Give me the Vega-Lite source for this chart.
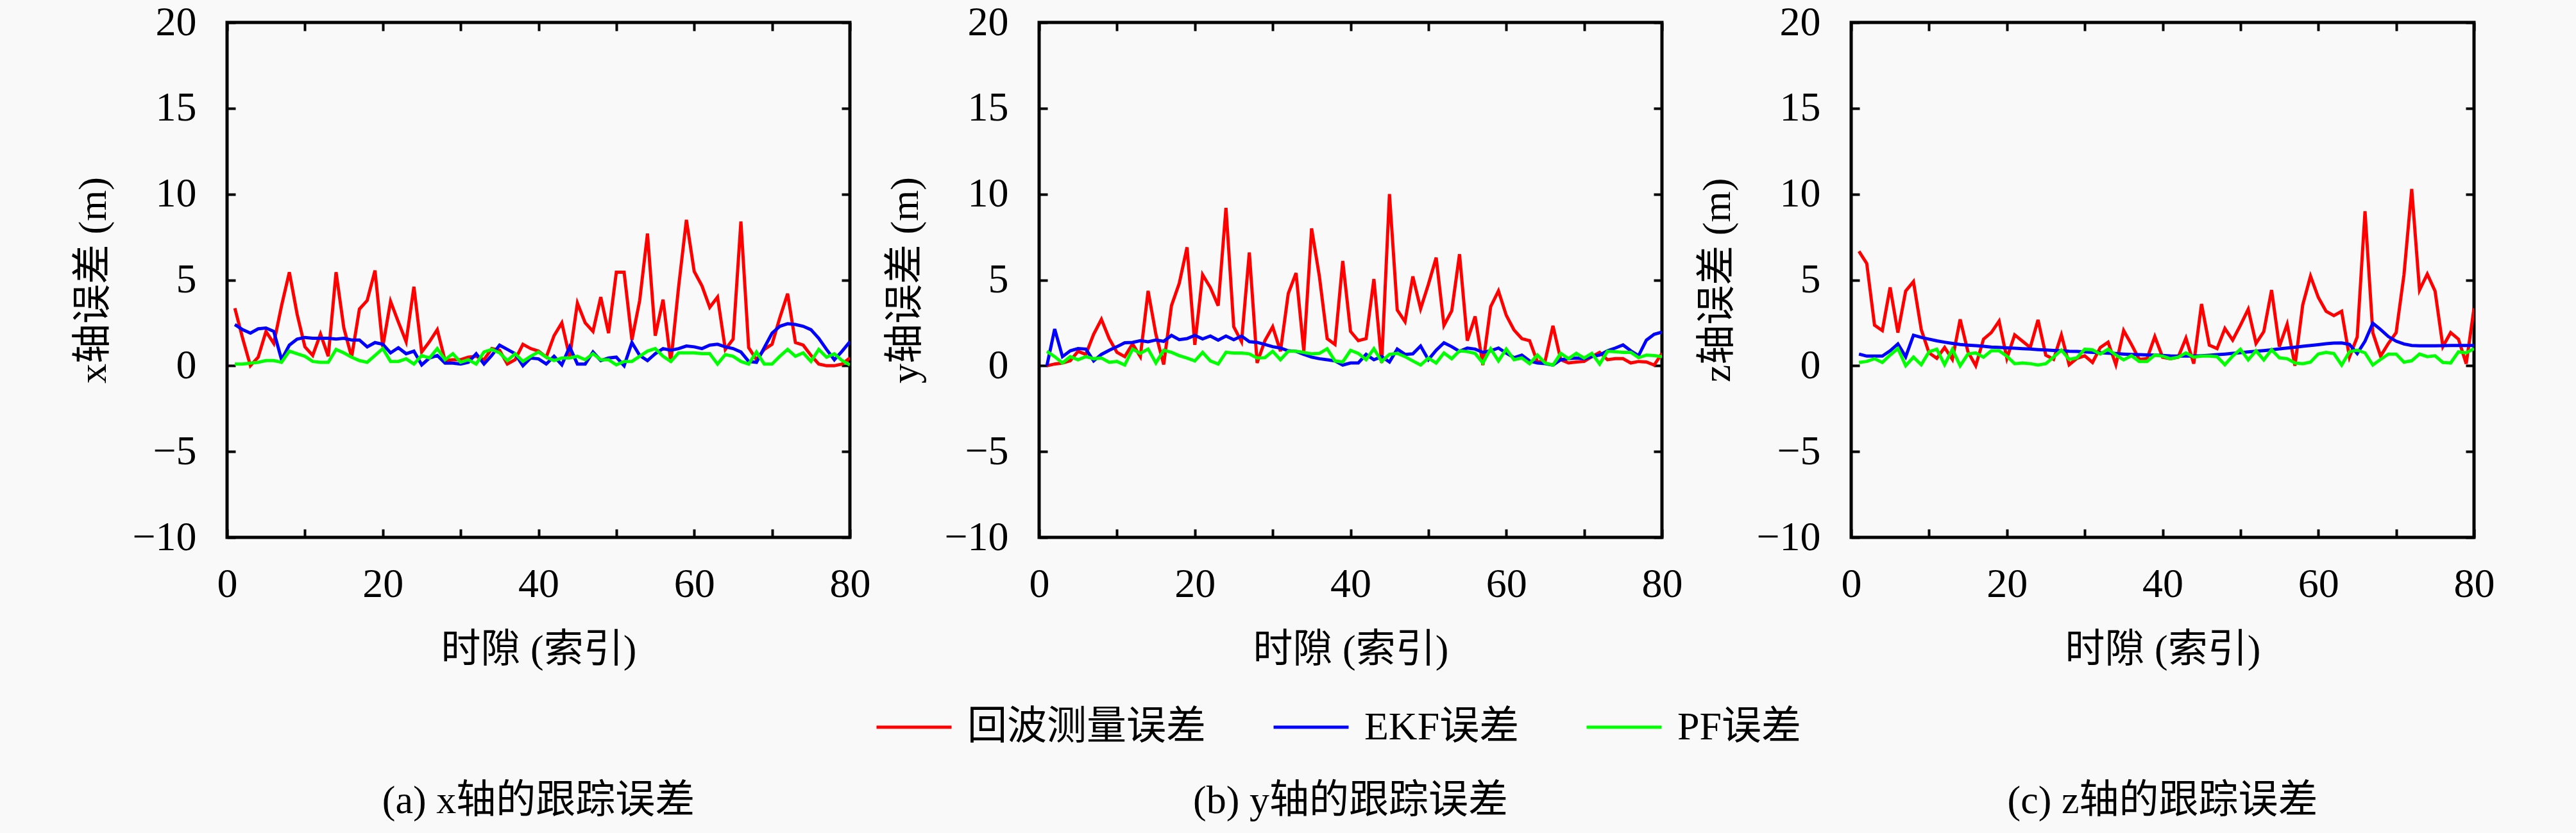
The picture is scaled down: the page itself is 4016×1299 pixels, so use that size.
{
"$schema": "https://vega.github.io/schema/vega-lite/v6.json",
"background": "#f9f9f9",
"padding": {"left": 112, "top": 0, "right": 200, "bottom": 80},
"datasets": {
"a": [
{"t":1,"回波测量误差":3.35,"EKF误差":2.4,"PF误差":0.1},
{"t":2,"回波测量误差":1.6,"EKF误差":2.1,"PF误差":0.1},
{"t":3,"回波测量误差":0.0,"EKF误差":1.9,"PF误差":0.15},
{"t":4,"回波测量误差":0.5,"EKF误差":2.15,"PF误差":0.2},
{"t":5,"回波测量误差":2.0,"EKF误差":2.2,"PF误差":0.3},
{"t":6,"回波测量误差":1.3,"EKF误差":2.0,"PF误差":0.3},
{"t":7,"回波测量误差":3.5,"EKF误差":0.35,"PF误差":0.2},
{"t":8,"回波测量误差":5.45,"EKF误差":1.2,"PF误差":0.85},
{"t":9,"回波测量误差":3.0,"EKF误差":1.55,"PF误差":0.7},
{"t":10,"回波测量误差":1.1,"EKF误差":1.65,"PF误差":0.55},
{"t":11,"回波测量误差":0.6,"EKF误差":1.6,"PF误差":0.25},
{"t":12,"回波测量误差":1.85,"EKF误差":1.6,"PF误差":0.2},
{"t":13,"回波测量误差":0.55,"EKF误差":1.6,"PF误差":0.2},
{"t":14,"回波测量误差":5.45,"EKF误差":1.55,"PF误差":0.95},
{"t":15,"回波测量误差":2.2,"EKF误差":1.6,"PF误差":0.75},
{"t":16,"回波测量误差":0.5,"EKF误差":1.5,"PF误差":0.5},
{"t":17,"回波测量误差":3.3,"EKF误差":1.5,"PF误差":0.3},
{"t":18,"回波测量误差":3.8,"EKF误差":1.1,"PF误差":0.2},
{"t":19,"回波测量误差":5.55,"EKF误差":1.35,"PF误差":0.6},
{"t":20,"回波测量误差":1.1,"EKF误差":1.25,"PF误差":1.0},
{"t":21,"回波测量误差":3.75,"EKF误差":0.75,"PF误差":0.25},
{"t":22,"回波测量误差":2.55,"EKF误差":1.05,"PF误差":0.25},
{"t":23,"回波测量误差":1.4,"EKF误差":0.7,"PF误差":0.4},
{"t":24,"回波测量误差":4.6,"EKF误差":0.85,"PF误差":0.1},
{"t":25,"回波测量误差":0.8,"EKF误差":0.05,"PF误差":0.6},
{"t":26,"回波测量误差":1.4,"EKF误差":0.45,"PF误差":0.45},
{"t":27,"回波测量误差":2.1,"EKF误差":0.6,"PF误差":1.0},
{"t":28,"回波测量误差":0.3,"EKF误差":0.15,"PF误差":0.35},
{"t":29,"回波测量误差":0.35,"EKF误差":0.15,"PF误差":0.7},
{"t":30,"回波测量误差":0.35,"EKF误差":0.1,"PF误差":0.2},
{"t":31,"回波测量误差":0.5,"EKF误差":0.2,"PF误差":0.35},
{"t":32,"回波测量误差":0.55,"EKF误差":0.7,"PF误差":0.1},
{"t":33,"回波测量误差":0.35,"EKF误差":0.1,"PF误差":0.8},
{"t":34,"回波测量误差":1.0,"EKF误差":0.6,"PF误差":0.95},
{"t":35,"回波测量误差":0.9,"EKF误差":1.2,"PF误差":0.75},
{"t":36,"回波测量误差":0.1,"EKF误差":0.95,"PF误差":0.3},
{"t":37,"回波测量误差":0.35,"EKF误差":0.7,"PF误差":0.7},
{"t":38,"回波测量误差":1.25,"EKF误差":0.0,"PF误差":0.25},
{"t":39,"回波测量误差":1.0,"EKF误差":0.45,"PF误差":0.55},
{"t":40,"回波测量误差":0.85,"EKF误差":0.4,"PF误差":0.8},
{"t":41,"回波测量误差":0.5,"EKF误差":0.1,"PF误差":0.5},
{"t":42,"回波测量误差":1.75,"EKF误差":0.55,"PF误差":0.3},
{"t":43,"回波测量误差":2.5,"EKF误差":0.05,"PF误差":0.45},
{"t":44,"回波测量误差":0.5,"EKF误差":1.1,"PF误差":0.45},
{"t":45,"回波测量误差":3.65,"EKF误差":0.1,"PF误差":0.55},
{"t":46,"回波测量误差":2.5,"EKF误差":0.1,"PF误差":0.35},
{"t":47,"回波测量误差":2.0,"EKF误差":0.8,"PF误差":0.7},
{"t":48,"回波测量误差":4.0,"EKF误差":0.3,"PF误差":0.35},
{"t":49,"回波测量误差":1.9,"EKF误差":0.45,"PF误差":0.35},
{"t":50,"回波测量误差":5.45,"EKF误差":0.5,"PF误差":0.05},
{"t":51,"回波测量误差":5.45,"EKF误差":0.0,"PF误差":0.25},
{"t":52,"回波测量误差":1.5,"EKF误差":1.35,"PF误差":0.25},
{"t":53,"回波测量误差":3.8,"EKF误差":0.6,"PF误差":0.55},
{"t":54,"回波测量误差":7.7,"EKF误差":0.3,"PF误差":0.85},
{"t":55,"回波测量误差":1.75,"EKF误差":0.7,"PF误差":1.0},
{"t":56,"回波测量误差":3.85,"EKF误差":1.0,"PF误差":0.55},
{"t":57,"回波测量误差":0.2,"EKF误差":0.9,"PF误差":0.25},
{"t":58,"回波测量误差":4.6,"EKF误差":1.0,"PF误差":0.75},
{"t":59,"回波测量误差":8.5,"EKF误差":1.15,"PF误差":0.75},
{"t":60,"回波测量误差":5.5,"EKF误差":1.1,"PF误差":0.75},
{"t":61,"回波测量误差":4.65,"EKF误差":1.0,"PF误差":0.7},
{"t":62,"回波测量误差":3.4,"EKF误差":1.2,"PF误差":0.7},
{"t":63,"回波测量误差":4.0,"EKF误差":1.25,"PF误差":0.1},
{"t":64,"回波测量误差":0.95,"EKF误差":1.1,"PF误差":0.65},
{"t":65,"回波测量误差":1.55,"EKF误差":1.0,"PF误差":0.55},
{"t":66,"回波测量误差":8.4,"EKF误差":0.8,"PF误差":0.25},
{"t":67,"回波测量误差":1.05,"EKF误差":0.25,"PF误差":0.1},
{"t":68,"回波测量误差":0.35,"EKF误差":0.2,"PF误差":0.8},
{"t":69,"回波测量误差":0.95,"EKF误差":1.05,"PF误差":0.1},
{"t":70,"回波测量误差":1.25,"EKF误差":1.9,"PF误差":0.1},
{"t":71,"回波测量误差":2.8,"EKF误差":2.3,"PF误差":0.55},
{"t":72,"回波测量误差":4.2,"EKF误差":2.45,"PF误差":0.95},
{"t":73,"回波测量误差":1.35,"EKF误差":2.4,"PF误差":0.55},
{"t":74,"回波测量误差":1.2,"EKF误差":2.3,"PF误差":0.75},
{"t":75,"回波测量误差":0.6,"EKF误差":2.1,"PF误差":0.25},
{"t":76,"回波测量误差":0.1,"EKF误差":1.6,"PF误差":0.95},
{"t":77,"回波测量误差":0.0,"EKF误差":0.95,"PF误差":0.5},
{"t":78,"回波测量误差":0.0,"EKF误差":0.35,"PF误差":0.7},
{"t":79,"回波测量误差":0.1,"EKF误差":0.85,"PF误差":0.3},
{"t":80,"回波测量误差":0.45,"EKF误差":1.4,"PF误差":0.05}
],
"b": [
{"t":1,"回波测量误差":0.0,"EKF误差":0.0,"PF误差":0.84},
{"t":2,"回波测量误差":0.1,"EKF误差":2.14,"PF误差":0.53},
{"t":3,"回波测量误差":0.16,"EKF误差":0.53,"PF误差":0.16},
{"t":4,"回波测量误差":0.29,"EKF误差":0.87,"PF误差":0.53},
{"t":5,"回波测量误差":0.84,"EKF误差":1.0,"PF误差":0.35},
{"t":6,"回波测量误差":0.66,"EKF误差":0.97,"PF误差":0.53},
{"t":7,"回波测量误差":1.83,"EKF误差":0.28,"PF误差":0.41},
{"t":8,"回波测量误差":2.7,"EKF误差":0.66,"PF误差":0.45},
{"t":9,"回波测量误差":1.58,"EKF误差":0.9,"PF误差":0.2},
{"t":10,"回波测量误差":0.78,"EKF误差":1.11,"PF误差":0.25},
{"t":11,"回波测量误差":0.53,"EKF误差":1.34,"PF误差":0.04},
{"t":12,"回波测量误差":1.27,"EKF误差":1.36,"PF误差":0.97},
{"t":13,"回波测量误差":0.53,"EKF误差":1.46,"PF误差":0.72},
{"t":14,"回波测量误差":4.36,"EKF误差":1.4,"PF误差":0.97},
{"t":15,"回波测量误差":1.83,"EKF误差":1.5,"PF误差":0.16},
{"t":16,"回波测量误差":0.07,"EKF误差":1.42,"PF误差":0.9},
{"t":17,"回波测量误差":3.5,"EKF误差":1.77,"PF误差":0.78},
{"t":18,"回波测量误差":4.8,"EKF误差":1.52,"PF误差":0.59},
{"t":19,"回波测量误差":6.9,"EKF误差":1.58,"PF误差":0.45},
{"t":20,"回波测量误差":1.22,"EKF误差":1.77,"PF误差":0.28},
{"t":21,"回波测量误差":5.3,"EKF误差":1.56,"PF误差":0.78},
{"t":22,"回波测量误差":4.55,"EKF误差":1.73,"PF误差":0.28},
{"t":23,"回波测量误差":3.5,"EKF误差":1.49,"PF误差":0.1},
{"t":24,"回波测量误差":9.2,"EKF误差":1.73,"PF误差":0.78},
{"t":25,"回波测量误差":2.27,"EKF误差":1.52,"PF误差":0.74},
{"t":26,"回波测量误差":1.4,"EKF误差":1.73,"PF误差":0.74},
{"t":27,"回波测量误差":6.6,"EKF误差":1.4,"PF误差":0.69},
{"t":28,"回波测量误差":0.16,"EKF误差":1.36,"PF误差":0.45},
{"t":29,"回波测量误差":1.46,"EKF误差":1.24,"PF误差":0.47},
{"t":30,"回波测量误差":2.27,"EKF误差":1.11,"PF误差":0.84},
{"t":31,"回波测量误差":0.84,"EKF误差":1.03,"PF误差":0.35},
{"t":32,"回波测量误差":4.2,"EKF误差":0.87,"PF误差":0.84},
{"t":33,"回波测量误差":5.4,"EKF误差":0.84,"PF误差":0.84},
{"t":34,"回波测量误差":0.84,"EKF误差":0.66,"PF误差":0.78},
{"t":35,"回波测量误差":8.0,"EKF误差":0.5,"PF误差":0.69},
{"t":36,"回波测量误差":5.2,"EKF误差":0.41,"PF误差":0.72},
{"t":37,"回波测量误差":1.58,"EKF误差":0.35,"PF误差":0.99},
{"t":38,"回波测量误差":1.24,"EKF误差":0.28,"PF误差":0.28},
{"t":39,"回波测量误差":6.1,"EKF误差":0.04,"PF误差":0.22},
{"t":40,"回波测量误差":2.0,"EKF误差":0.16,"PF误差":0.9},
{"t":41,"回波测量误差":1.46,"EKF误差":0.16,"PF误差":0.72},
{"t":42,"回波测量误差":1.58,"EKF误差":0.66,"PF误差":0.35},
{"t":43,"回波测量误差":5.05,"EKF误差":0.35,"PF误差":0.99},
{"t":44,"回波测量误差":0.16,"EKF误差":0.53,"PF误差":0.25},
{"t":45,"回波测量误差":10.0,"EKF误差":0.22,"PF误差":0.66},
{"t":46,"回波测量误差":3.25,"EKF误差":0.97,"PF误差":0.72},
{"t":47,"回波测量误差":2.57,"EKF误差":0.66,"PF误差":0.53},
{"t":48,"回波测量误差":5.2,"EKF误差":0.69,"PF误差":0.28},
{"t":49,"回波测量误差":3.32,"EKF误差":1.15,"PF误差":0.04},
{"t":50,"回波测量误差":4.74,"EKF误差":0.35,"PF误差":0.45},
{"t":51,"回波测量误差":6.3,"EKF误差":0.9,"PF误差":0.16},
{"t":52,"回波测量误差":2.35,"EKF误差":1.34,"PF误差":0.74},
{"t":53,"回波测量误差":3.2,"EKF误差":1.11,"PF误差":0.41},
{"t":54,"回波测量误差":6.5,"EKF误差":0.84,"PF误差":0.87},
{"t":55,"回波测量误差":1.46,"EKF误差":1.03,"PF误差":0.82},
{"t":56,"回波测量误差":2.87,"EKF误差":0.97,"PF误差":0.72},
{"t":57,"回波测量误差":0.04,"EKF误差":0.78,"PF误差":0.16},
{"t":58,"回波测量误差":3.44,"EKF误差":0.87,"PF误差":0.99},
{"t":59,"回波测量误差":4.36,"EKF误差":1.03,"PF误差":0.28},
{"t":60,"回波测量误差":2.94,"EKF误差":0.74,"PF误差":0.97},
{"t":61,"回波测量误差":2.08,"EKF误差":0.47,"PF误差":0.35},
{"t":62,"回波测量误差":1.58,"EKF误差":0.62,"PF误差":0.45},
{"t":63,"回波测量误差":1.46,"EKF误差":0.28,"PF误差":0.12},
{"t":64,"回波测量误差":0.22,"EKF误差":0.16,"PF误差":0.62},
{"t":65,"回波测量误差":0.28,"EKF误差":0.12,"PF误差":0.16},
{"t":66,"回波测量误差":2.33,"EKF误差":0.04,"PF误差":0.04},
{"t":67,"回波测量误差":0.35,"EKF误差":0.35,"PF误差":0.72},
{"t":68,"回波测量误差":0.16,"EKF误差":0.41,"PF误差":0.41},
{"t":69,"回波测量误差":0.22,"EKF误差":0.45,"PF误差":0.72},
{"t":70,"回波测量误差":0.25,"EKF误差":0.41,"PF误差":0.45},
{"t":71,"回波测量误差":0.53,"EKF误差":0.53,"PF误差":0.72},
{"t":72,"回波测量误差":0.78,"EKF误差":0.62,"PF误差":0.1},
{"t":73,"回波测量误差":0.35,"EKF误差":0.87,"PF误差":0.84},
{"t":74,"回波测量误差":0.41,"EKF误差":1.03,"PF误差":0.82},
{"t":75,"回波测量误差":0.41,"EKF误差":1.21,"PF误差":0.78},
{"t":76,"回波测量误差":0.16,"EKF误差":0.87,"PF误差":0.78},
{"t":77,"回波测量误差":0.25,"EKF误差":0.59,"PF误差":0.47},
{"t":78,"回波测量误差":0.22,"EKF误差":1.49,"PF误差":0.62},
{"t":79,"回波测量误差":0.04,"EKF误差":1.83,"PF误差":0.59},
{"t":80,"回波测量误差":0.72,"EKF误差":1.96,"PF误差":0.53}
],
"c": [
{"t":1,"回波测量误差":6.67,"EKF误差":0.68,"PF误差":0.19},
{"t":2,"回波测量误差":5.96,"EKF误差":0.56,"PF误差":0.25},
{"t":3,"回波测量误差":2.36,"EKF误差":0.56,"PF误差":0.41},
{"t":4,"回波测量误差":2.05,"EKF误差":0.56,"PF误差":0.19},
{"t":5,"回波测量误差":4.56,"EKF误差":0.87,"PF误差":0.62},
{"t":6,"回波测量误差":1.93,"EKF误差":1.27,"PF误差":1.0},
{"t":7,"回波测量误差":4.35,"EKF误差":0.52,"PF误差":0.0},
{"t":8,"回波测量误差":4.9,"EKF误差":1.78,"PF误差":0.5},
{"t":9,"回波测量误差":2.11,"EKF误差":1.65,"PF误差":0.06},
{"t":10,"回波测量误差":0.75,"EKF误差":1.55,"PF误差":0.81},
{"t":11,"回波测量误差":0.43,"EKF误差":1.45,"PF误差":0.96},
{"t":12,"回波测量误差":1.06,"EKF误差":1.37,"PF误差":0.06},
{"t":13,"回波测量误差":0.37,"EKF误差":1.3,"PF误差":0.96},
{"t":14,"回波测量误差":2.7,"EKF误差":1.24,"PF误差":0.0},
{"t":15,"回波测量误差":0.81,"EKF误差":1.2,"PF误差":0.68},
{"t":16,"回波测量误差":0.0,"EKF误差":1.17,"PF误差":0.75},
{"t":17,"回波测量误差":1.55,"EKF误差":1.13,"PF误差":0.5},
{"t":18,"回波测量误差":1.93,"EKF误差":1.09,"PF误差":0.87},
{"t":19,"回波测量误差":2.6,"EKF误差":1.07,"PF误差":0.87},
{"t":20,"回波测量误差":0.43,"EKF误差":1.04,"PF误差":0.56},
{"t":21,"回波测量误差":1.8,"EKF误差":1.02,"PF误差":0.12},
{"t":22,"回波测量误差":1.43,"EKF误差":0.99,"PF误差":0.16},
{"t":23,"回波测量误差":1.06,"EKF误差":0.97,"PF误差":0.12},
{"t":24,"回波测量误差":2.67,"EKF误差":0.94,"PF误差":0.04},
{"t":25,"回波测量误差":0.62,"EKF误差":0.92,"PF误差":0.12},
{"t":26,"回波测量误差":0.37,"EKF误差":0.89,"PF误差":0.5},
{"t":27,"回波测量误差":1.8,"EKF误差":0.87,"PF误差":0.91},
{"t":28,"回波测量误差":0.06,"EKF误差":0.84,"PF误差":0.37},
{"t":29,"回波测量误差":0.43,"EKF误差":0.83,"PF误差":0.46},
{"t":30,"回波测量误差":0.58,"EKF误差":0.81,"PF误差":0.96},
{"t":31,"回波测量误差":0.19,"EKF误差":0.78,"PF误差":0.93},
{"t":32,"回波测量误差":1.06,"EKF误差":0.76,"PF误差":0.68},
{"t":33,"回波测量误差":1.37,"EKF误差":0.73,"PF误差":0.96},
{"t":34,"回波测量误差":0.06,"EKF误差":0.71,"PF误差":0.62},
{"t":35,"回波测量误差":2.05,"EKF误差":0.68,"PF误差":0.34},
{"t":36,"回波测量误差":1.24,"EKF误差":0.66,"PF误差":0.58},
{"t":37,"回波测量误差":0.37,"EKF误差":0.65,"PF误差":0.25},
{"t":38,"回波测量误差":0.41,"EKF误差":0.63,"PF误差":0.25},
{"t":39,"回波测量误差":1.7,"EKF误差":0.62,"PF误差":0.62},
{"t":40,"回波测量误差":0.5,"EKF误差":0.6,"PF误差":0.56},
{"t":41,"回波测量误差":0.41,"EKF误差":0.57,"PF误差":0.41},
{"t":42,"回波测量误差":0.5,"EKF误差":0.56,"PF误差":0.5},
{"t":43,"回波测量误差":1.61,"EKF误差":0.56,"PF误差":0.75},
{"t":44,"回波测量误差":0.12,"EKF误差":0.56,"PF误差":0.5},
{"t":45,"回波测量误差":3.6,"EKF误差":0.58,"PF误差":0.56},
{"t":46,"回波测量误差":1.2,"EKF误差":0.61,"PF误差":0.56},
{"t":47,"回波测量误差":1.0,"EKF误差":0.65,"PF误差":0.53},
{"t":48,"回波测量误差":2.17,"EKF误差":0.68,"PF误差":0.06},
{"t":49,"回波测量误差":1.49,"EKF误差":0.72,"PF误差":0.56},
{"t":50,"回波测量误差":2.36,"EKF误差":0.76,"PF误差":0.96},
{"t":51,"回波测量误差":3.29,"EKF误差":0.81,"PF误差":0.34},
{"t":52,"回波测量误差":1.3,"EKF误差":0.84,"PF误差":0.87},
{"t":53,"回波测量误差":1.99,"EKF误差":0.88,"PF误差":0.34},
{"t":54,"回波测量误差":4.41,"EKF误差":0.93,"PF误差":0.93},
{"t":55,"回波测量误差":1.12,"EKF误差":0.98,"PF误差":0.46},
{"t":56,"回波测量误差":2.42,"EKF误差":1.03,"PF误差":0.41},
{"t":57,"回波测量误差":0.0,"EKF误差":1.08,"PF误差":0.16},
{"t":58,"回波测量误差":3.54,"EKF误差":1.13,"PF误差":0.12},
{"t":59,"回波测量误差":5.22,"EKF误差":1.18,"PF误差":0.21},
{"t":60,"回波测量误差":3.98,"EKF误差":1.23,"PF误差":0.68},
{"t":61,"回波测量误差":3.17,"EKF误差":1.28,"PF误差":0.78},
{"t":62,"回波测量误差":2.92,"EKF误差":1.32,"PF误差":0.71},
{"t":63,"回波测量误差":3.17,"EKF误差":1.33,"PF误差":0.04},
{"t":64,"回波测量误差":0.5,"EKF误差":1.24,"PF误差":0.81},
{"t":65,"回波测量误差":1.68,"EKF误差":0.71,"PF误差":0.91},
{"t":66,"回波测量误差":9.0,"EKF误差":1.43,"PF误差":0.75},
{"t":67,"回波测量误差":1.93,"EKF误差":2.48,"PF误差":0.04},
{"t":68,"回波测量误差":0.56,"EKF误差":2.11,"PF误差":0.37},
{"t":69,"回波测量误差":1.3,"EKF误差":1.7,"PF误差":0.68},
{"t":70,"回波测量误差":1.93,"EKF误差":1.43,"PF误差":0.68},
{"t":71,"回波测量误差":5.28,"EKF误差":1.27,"PF误差":0.21},
{"t":72,"回波测量误差":10.3,"EKF误差":1.18,"PF误差":0.29},
{"t":73,"回波测量误差":4.41,"EKF误差":1.16,"PF误差":0.68},
{"t":74,"回波测量误差":5.34,"EKF误差":1.16,"PF误差":0.53},
{"t":75,"回波测量误差":4.35,"EKF误差":1.16,"PF误差":0.58},
{"t":76,"回波测量误差":1.12,"EKF误差":1.17,"PF误差":0.19},
{"t":77,"回波测量误差":1.93,"EKF误差":1.18,"PF误差":0.16},
{"t":78,"回波测量误差":1.55,"EKF误差":1.18,"PF误差":0.81},
{"t":79,"回波测量误差":0.12,"EKF误差":1.18,"PF误差":0.75},
{"t":80,"回波测量误差":3.35,"EKF误差":1.18,"PF误差":1.0}
]
},
"config": {
  "view": {"stroke": "black", "strokeWidth": 5},
  "axis": {"grid": false, "domain": false, "tickColor": "black", "tickWidth": 4, "tickSize": -13, "labelFlush": false, "labelOverlap": false,
           "labelFontSize": 64, "labelColor": "black", "titleFontSize": 62, "titleFontWeight": "normal", "titleColor": "black"},
  "title": {"fontSize": 62, "fontWeight": "normal", "color": "black", "font": "Liberation Serif, Noto Sans CJK SC"},
  "legend": {"labelFontSize": 62, "labelColor": "black", "labelFont": "Liberation Serif, Noto Sans CJK SC", "labelLimit": 1000}
},
"spacing": 18,
"hconcat": [
{
  "width": 971, "height": 803,
  "data": {"name": "a"},
  "title": {"text": "(a) x轴的跟踪误差", "orient": "bottom", "frame": "group", "anchor": "middle", "offset": 175},
  "transform": [{"fold": ["回波测量误差", "EKF误差", "PF误差"], "as": ["series", "value"]}],
  "layer": [
    {"mark": {"type": "line", "strokeWidth": 5, "clip": true},
     "encoding": {
       "x": {"field": "t", "type": "quantitative", "scale": {"domain": [0, 80], "nice": false, "zero": false},
             "axis": {"orient": "bottom", "title": "时隙 (索引)", "values": [0,10,20,30,40,50,60,70,80], "labelExpr": "datum.value % 20 === 0 ? datum.label : ''", "labelPadding": 54, "titlePadding": 40,
                      "labelFont": "Liberation Serif", "titleFont": "Liberation Serif, Noto Sans CJK SC"}},
       "y": {"field": "value", "type": "quantitative", "scale": {"domain": [-10, 20], "nice": false, "zero": false},
             "axis": {"orient": "left", "title": "x轴误差 (m)", "values": [-10,-5,0,5,10,15,20], "labelPadding": 61, "titlePadding": 28,
                      "labelFont": "Liberation Serif", "titleFont": "Liberation Serif, Noto Sans CJK SC"}},
       "color": {"field": "series", "type": "nominal",
                 "scale": {"domain": ["回波测量误差", "EKF误差", "PF误差"], "range": ["#ff0000", "#0000ff", "#00ff00"]},
                 "legend": {"orient": "none", "legendX": 1010, "legendY": 1038, "direction": "horizontal", "title": null,
                            "symbolType": "stroke", "symbolSize": 13689, "symbolStrokeWidth": 5, "labelOffset": 22, "columnPadding": 94}}
     }},
    {"mark": {"type": "line", "opacity": 0},
     "encoding": {
       "x": {"field": "t", "type": "quantitative", "scale": {"domain": [0, 80], "nice": false, "zero": false}, "axis": {"orient": "top", "title": null, "labels": false, "values": [0,10,20,30,40,50,60,70,80]}},
       "y": {"field": "value", "type": "quantitative", "scale": {"domain": [-10, 20], "nice": false, "zero": false}, "axis": {"orient": "right", "title": null, "labels": false, "values": [-10,-5,0,5,10,15,20]}}
     }}
  ],
  "resolve": {"axis": {"x": "independent", "y": "independent"}}
},
{
  "width": 971, "height": 803,
  "data": {"name": "b"},
  "title": {"text": "(b) y轴的跟踪误差", "orient": "bottom", "frame": "group", "anchor": "middle", "offset": 175},
  "transform": [{"fold": ["回波测量误差", "EKF误差", "PF误差"], "as": ["series", "value"]}],
  "layer": [
    {"mark": {"type": "line", "strokeWidth": 5, "clip": true},
     "encoding": {
       "x": {"field": "t", "type": "quantitative", "scale": {"domain": [0, 80], "nice": false, "zero": false},
             "axis": {"orient": "bottom", "title": "时隙 (索引)", "values": [0,10,20,30,40,50,60,70,80], "labelExpr": "datum.value % 20 === 0 ? datum.label : ''", "labelPadding": 54, "titlePadding": 40,
                      "labelFont": "Liberation Serif", "titleFont": "Liberation Serif, Noto Sans CJK SC"}},
       "y": {"field": "value", "type": "quantitative", "scale": {"domain": [-10, 20], "nice": false, "zero": false},
             "axis": {"orient": "left", "title": "y轴误差 (m)", "values": [-10,-5,0,5,10,15,20], "labelPadding": 61, "titlePadding": 28,
                      "labelFont": "Liberation Serif", "titleFont": "Liberation Serif, Noto Sans CJK SC"}},
       "color": {"field": "series", "type": "nominal",
                 "scale": {"domain": ["回波测量误差", "EKF误差", "PF误差"], "range": ["#ff0000", "#0000ff", "#00ff00"]}}
     }},
    {"mark": {"type": "line", "opacity": 0},
     "encoding": {
       "x": {"field": "t", "type": "quantitative", "scale": {"domain": [0, 80], "nice": false, "zero": false}, "axis": {"orient": "top", "title": null, "labels": false, "values": [0,10,20,30,40,50,60,70,80]}},
       "y": {"field": "value", "type": "quantitative", "scale": {"domain": [-10, 20], "nice": false, "zero": false}, "axis": {"orient": "right", "title": null, "labels": false, "values": [-10,-5,0,5,10,15,20]}}
     }}
  ],
  "resolve": {"axis": {"x": "independent", "y": "independent"}}
},
{
  "width": 971, "height": 803,
  "data": {"name": "c"},
  "title": {"text": "(c) z轴的跟踪误差", "orient": "bottom", "frame": "group", "anchor": "middle", "offset": 175},
  "transform": [{"fold": ["回波测量误差", "EKF误差", "PF误差"], "as": ["series", "value"]}],
  "layer": [
    {"mark": {"type": "line", "strokeWidth": 5, "clip": true},
     "encoding": {
       "x": {"field": "t", "type": "quantitative", "scale": {"domain": [0, 80], "nice": false, "zero": false},
             "axis": {"orient": "bottom", "title": "时隙 (索引)", "values": [0,10,20,30,40,50,60,70,80], "labelExpr": "datum.value % 20 === 0 ? datum.label : ''", "labelPadding": 54, "titlePadding": 40,
                      "labelFont": "Liberation Serif", "titleFont": "Liberation Serif, Noto Sans CJK SC"}},
       "y": {"field": "value", "type": "quantitative", "scale": {"domain": [-10, 20], "nice": false, "zero": false},
             "axis": {"orient": "left", "title": "z轴误差 (m)", "values": [-10,-5,0,5,10,15,20], "labelPadding": 61, "titlePadding": 28,
                      "labelFont": "Liberation Serif", "titleFont": "Liberation Serif, Noto Sans CJK SC"}},
       "color": {"field": "series", "type": "nominal",
                 "scale": {"domain": ["回波测量误差", "EKF误差", "PF误差"], "range": ["#ff0000", "#0000ff", "#00ff00"]}}
     }},
    {"mark": {"type": "line", "opacity": 0},
     "encoding": {
       "x": {"field": "t", "type": "quantitative", "scale": {"domain": [0, 80], "nice": false, "zero": false}, "axis": {"orient": "top", "title": null, "labels": false, "values": [0,10,20,30,40,50,60,70,80]}},
       "y": {"field": "value", "type": "quantitative", "scale": {"domain": [-10, 20], "nice": false, "zero": false}, "axis": {"orient": "right", "title": null, "labels": false, "values": [-10,-5,0,5,10,15,20]}}
     }}
  ],
  "resolve": {"axis": {"x": "independent", "y": "independent"}}
}
],
"resolve": {"scale": {"color": "shared"}, "legend": {"color": "shared"}}
}
